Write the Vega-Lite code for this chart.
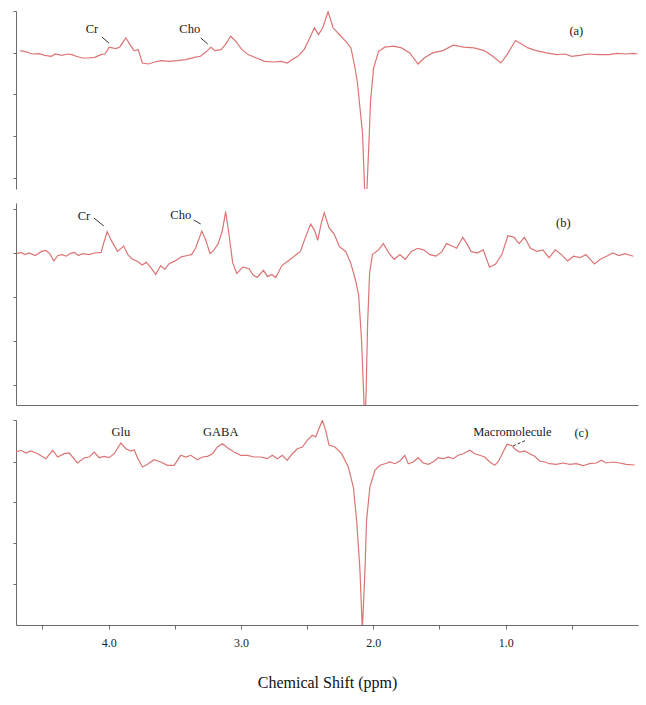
{
  "$schema": "https://vega.github.io/schema/vega-lite/v6.json",
  "padding": {"top": 10, "left": 12, "right": 5, "bottom": 5},
  "background": "white",
  "spacing": 14,
  "config": {
    "view": {"stroke": null},
    "axis": {"domainColor": "#6b6b6b", "tickColor": "#6b6b6b", "grid": false, "labelColor": "#222", "titleColor": "#111"},
    "text": {"font": "Liberation Serif", "fontSize": 12.5, "color": "#1a1a1a"}
  },
  "datasets": {
    "a": [
      {"ppm":4.669,"signal":138.4},{"ppm":4.622,"signal":137.1},{"ppm":4.575,"signal":135.0},{"ppm":4.528,"signal":135.4},{"ppm":4.481,"signal":133.7},{"ppm":4.434,"signal":132.7},{"ppm":4.402,"signal":135.0},{"ppm":4.355,"signal":133.7},{"ppm":4.309,"signal":135.0},{"ppm":4.277,"signal":134.4},{"ppm":4.246,"signal":132.7},{"ppm":4.199,"signal":131.0},{"ppm":4.152,"signal":131.0},{"ppm":4.105,"signal":131.7},{"ppm":4.058,"signal":134.4},{"ppm":4.027,"signal":135.0},{"ppm":3.995,"signal":141.8},{"ppm":3.948,"signal":140.4},{"ppm":3.917,"signal":141.8},{"ppm":3.870,"signal":151.2},{"ppm":3.839,"signal":144.4},{"ppm":3.807,"signal":138.4},{"ppm":3.776,"signal":139.4},{"ppm":3.745,"signal":126.0},{"ppm":3.698,"signal":125.0},{"ppm":3.651,"signal":127.0},{"ppm":3.604,"signal":128.3},{"ppm":3.541,"signal":127.7},{"ppm":3.479,"signal":128.3},{"ppm":3.416,"signal":129.3},{"ppm":3.353,"signal":131.7},{"ppm":3.306,"signal":132.7},{"ppm":3.259,"signal":137.7},{"ppm":3.228,"signal":141.8},{"ppm":3.197,"signal":138.4},{"ppm":3.150,"signal":139.4},{"ppm":3.118,"signal":144.4},{"ppm":3.078,"signal":152.8},{"ppm":3.040,"signal":147.8},{"ppm":2.993,"signal":139.4},{"ppm":2.946,"signal":134.4},{"ppm":2.884,"signal":131.0},{"ppm":2.821,"signal":127.7},{"ppm":2.758,"signal":127.0},{"ppm":2.696,"signal":127.7},{"ppm":2.649,"signal":126.0},{"ppm":2.617,"signal":129.3},{"ppm":2.570,"signal":132.7},{"ppm":2.523,"signal":139.4},{"ppm":2.492,"signal":147.8},{"ppm":2.445,"signal":161.2},{"ppm":2.414,"signal":154.5},{"ppm":2.382,"signal":161.2},{"ppm":2.342,"signal":177.3},{"ppm":2.304,"signal":161.2},{"ppm":2.257,"signal":154.5},{"ppm":2.210,"signal":147.8},{"ppm":2.169,"signal":141.1},{"ppm":2.138,"signal":121.0},{"ppm":2.119,"signal":105},{"ppm":2.081,"signal":55},{"ppm":2.066,"signal":0},{"ppm":2.057,"signal":-30},{"ppm":2.048,"signal":0},{"ppm":2.032,"signal":50},{"ppm":2.021,"signal":88},{"ppm":1.998,"signal":121},{"ppm":1.960,"signal":137.7},{"ppm":1.913,"signal":141.8},{"ppm":1.850,"signal":142.8},{"ppm":1.787,"signal":141.1},{"ppm":1.725,"signal":136.1},{"ppm":1.662,"signal":125.0},{"ppm":1.615,"signal":131.0},{"ppm":1.552,"signal":136.1},{"ppm":1.474,"signal":138.4},{"ppm":1.396,"signal":143.8},{"ppm":1.318,"signal":141.8},{"ppm":1.239,"signal":141.1},{"ppm":1.161,"signal":138.4},{"ppm":1.098,"signal":132.7},{"ppm":1.036,"signal":126.0},{"ppm":0.989,"signal":134.4},{"ppm":0.926,"signal":148.5},{"ppm":0.879,"signal":145.1},{"ppm":0.832,"signal":141.1},{"ppm":0.770,"signal":138.4},{"ppm":0.691,"signal":136.1},{"ppm":0.613,"signal":134.4},{"ppm":0.550,"signal":135.0},{"ppm":0.503,"signal":132.7},{"ppm":0.441,"signal":133.7},{"ppm":0.378,"signal":135.0},{"ppm":0.300,"signal":134.4},{"ppm":0.221,"signal":134.4},{"ppm":0.159,"signal":135.7},{"ppm":0.096,"signal":135.0},{"ppm":0.034,"signal":135.7},{"ppm":0.005,"signal":135.0}
    ],
    "b": [
      {"ppm":4.694,"signal":151.4},{"ppm":4.663,"signal":152.6},{"ppm":4.632,"signal":150.4},{"ppm":4.601,"signal":152.0},{"ppm":4.554,"signal":149.5},{"ppm":4.507,"signal":153.6},{"ppm":4.476,"signal":154.5},{"ppm":4.445,"signal":151.4},{"ppm":4.414,"signal":144.1},{"ppm":4.383,"signal":149.5},{"ppm":4.352,"signal":150.4},{"ppm":4.321,"signal":148.8},{"ppm":4.290,"signal":151.4},{"ppm":4.259,"signal":152.6},{"ppm":4.228,"signal":149.5},{"ppm":4.197,"signal":151.4},{"ppm":4.150,"signal":150.4},{"ppm":4.104,"signal":152.0},{"ppm":4.057,"signal":152.6},{"ppm":4.035,"signal":163.0},{"ppm":4.011,"signal":173.4},{"ppm":3.980,"signal":164.6},{"ppm":3.933,"signal":153.6},{"ppm":3.886,"signal":158.9},{"ppm":3.855,"signal":150.4},{"ppm":3.824,"signal":146.3},{"ppm":3.778,"signal":143.2},{"ppm":3.747,"signal":140.0},{"ppm":3.716,"signal":142.6},{"ppm":3.684,"signal":137.8},{"ppm":3.644,"signal":130.6},{"ppm":3.607,"signal":139.4},{"ppm":3.576,"signal":135.6},{"ppm":3.545,"signal":141.0},{"ppm":3.498,"signal":144.1},{"ppm":3.452,"signal":148.2},{"ppm":3.405,"signal":149.5},{"ppm":3.374,"signal":150.4},{"ppm":3.343,"signal":156.7},{"ppm":3.296,"signal":174.0},{"ppm":3.265,"signal":164.6},{"ppm":3.234,"signal":151.4},{"ppm":3.203,"signal":155.1},{"ppm":3.172,"signal":161.4},{"ppm":3.141,"signal":174.0},{"ppm":3.116,"signal":193.5},{"ppm":3.094,"signal":174.0},{"ppm":3.063,"signal":142.6},{"ppm":3.032,"signal":131.5},{"ppm":2.986,"signal":137.8},{"ppm":2.939,"signal":136.3},{"ppm":2.908,"signal":130.0},{"ppm":2.877,"signal":127.5},{"ppm":2.830,"signal":134.7},{"ppm":2.799,"signal":128.4},{"ppm":2.768,"signal":130.6},{"ppm":2.737,"signal":127.5},{"ppm":2.691,"signal":139.4},{"ppm":2.644,"signal":144.1},{"ppm":2.598,"signal":148.8},{"ppm":2.551,"signal":153.6},{"ppm":2.504,"signal":170.9},{"ppm":2.473,"signal":180.9},{"ppm":2.442,"signal":174.0},{"ppm":2.420,"signal":164.6},{"ppm":2.396,"signal":180.3},{"ppm":2.371,"signal":192.2},{"ppm":2.334,"signal":177.1},{"ppm":2.296,"signal":170.9},{"ppm":2.256,"signal":158.3},{"ppm":2.209,"signal":153.6},{"ppm":2.172,"signal":142.6},{"ppm":2.135,"signal":125},{"ppm":2.111,"signal":110},{"ppm":2.089,"signal":65},{"ppm":2.074,"signal":15},{"ppm":2.064,"signal":-25},{"ppm":2.054,"signal":15},{"ppm":2.043,"signal":82},{"ppm":2.028,"signal":132},{"ppm":2.007,"signal":150.4},{"ppm":1.961,"signal":155.1},{"ppm":1.924,"signal":161.4},{"ppm":1.883,"signal":152.0},{"ppm":1.843,"signal":145.7},{"ppm":1.799,"signal":150.4},{"ppm":1.759,"signal":145.7},{"ppm":1.712,"signal":153.6},{"ppm":1.666,"signal":156.7},{"ppm":1.619,"signal":155.1},{"ppm":1.573,"signal":150.4},{"ppm":1.526,"signal":148.8},{"ppm":1.480,"signal":153.6},{"ppm":1.448,"signal":161.4},{"ppm":1.417,"signal":159.8},{"ppm":1.371,"signal":156.7},{"ppm":1.324,"signal":167.7},{"ppm":1.293,"signal":161.4},{"ppm":1.262,"signal":153.6},{"ppm":1.216,"signal":152.0},{"ppm":1.169,"signal":155.1},{"ppm":1.122,"signal":137.8},{"ppm":1.076,"signal":141.0},{"ppm":1.029,"signal":150.4},{"ppm":0.983,"signal":169.3},{"ppm":0.936,"signal":167.7},{"ppm":0.899,"signal":161.4},{"ppm":0.858,"signal":167.7},{"ppm":0.812,"signal":156.7},{"ppm":0.765,"signal":153.6},{"ppm":0.719,"signal":155.1},{"ppm":0.672,"signal":147.3},{"ppm":0.625,"signal":155.1},{"ppm":0.579,"signal":150.4},{"ppm":0.532,"signal":144.1},{"ppm":0.486,"signal":148.8},{"ppm":0.439,"signal":147.3},{"ppm":0.393,"signal":150.4},{"ppm":0.330,"signal":141.0},{"ppm":0.284,"signal":145.7},{"ppm":0.237,"signal":148.8},{"ppm":0.191,"signal":152.0},{"ppm":0.144,"signal":149.5},{"ppm":0.098,"signal":151.4},{"ppm":0.035,"signal":148.8}
    ],
    "c": [
      {"ppm":4.700,"signal":173.0},{"ppm":4.662,"signal":174.7},{"ppm":4.625,"signal":172.0},{"ppm":4.587,"signal":174.0},{"ppm":4.536,"signal":171.3},{"ppm":4.474,"signal":166.3},{"ppm":4.423,"signal":174.7},{"ppm":4.385,"signal":168.0},{"ppm":4.335,"signal":171.3},{"ppm":4.298,"signal":172.0},{"ppm":4.235,"signal":162.0},{"ppm":4.184,"signal":167.3},{"ppm":4.147,"signal":168.0},{"ppm":4.109,"signal":173.0},{"ppm":4.071,"signal":167.3},{"ppm":4.034,"signal":168.7},{"ppm":3.996,"signal":167.3},{"ppm":3.958,"signal":171.3},{"ppm":3.908,"signal":182.0},{"ppm":3.870,"signal":176.3},{"ppm":3.832,"signal":174.0},{"ppm":3.807,"signal":175.3},{"ppm":3.782,"signal":167.3},{"ppm":3.744,"signal":158.0},{"ppm":3.706,"signal":160.7},{"ppm":3.656,"signal":165.3},{"ppm":3.606,"signal":163.0},{"ppm":3.555,"signal":159.7},{"ppm":3.505,"signal":159.7},{"ppm":3.455,"signal":169.7},{"ppm":3.417,"signal":168.0},{"ppm":3.379,"signal":169.7},{"ppm":3.329,"signal":165.3},{"ppm":3.291,"signal":168.0},{"ppm":3.253,"signal":168.7},{"ppm":3.215,"signal":171.3},{"ppm":3.178,"signal":178.0},{"ppm":3.140,"signal":181.3},{"ppm":3.102,"signal":177.3},{"ppm":3.052,"signal":173.0},{"ppm":3.002,"signal":169.7},{"ppm":2.951,"signal":169.7},{"ppm":2.901,"signal":168.0},{"ppm":2.851,"signal":168.0},{"ppm":2.801,"signal":166.3},{"ppm":2.763,"signal":169.7},{"ppm":2.725,"signal":166.3},{"ppm":2.687,"signal":169.7},{"ppm":2.650,"signal":164.7},{"ppm":2.612,"signal":171.3},{"ppm":2.574,"signal":176.3},{"ppm":2.536,"signal":178.0},{"ppm":2.499,"signal":184.7},{"ppm":2.461,"signal":189.7},{"ppm":2.436,"signal":188.0},{"ppm":2.411,"signal":196.3},{"ppm":2.385,"signal":204.7},{"ppm":2.360,"signal":194.7},{"ppm":2.335,"signal":180.0},{"ppm":2.290,"signal":178.0},{"ppm":2.240,"signal":171.3},{"ppm":2.189,"signal":158.0},{"ppm":2.151,"signal":138.0},{"ppm":2.126,"signal":104.7},{"ppm":2.101,"signal":54.7},{"ppm":2.083,"signal":-5},{"ppm":2.063,"signal":54.7},{"ppm":2.051,"signal":104.7},{"ppm":2.026,"signal":138.0},{"ppm":1.988,"signal":154.7},{"ppm":1.950,"signal":159.7},{"ppm":1.913,"signal":161.3},{"ppm":1.875,"signal":163.0},{"ppm":1.837,"signal":161.3},{"ppm":1.800,"signal":164.0},{"ppm":1.762,"signal":169.7},{"ppm":1.736,"signal":161.3},{"ppm":1.698,"signal":163.0},{"ppm":1.661,"signal":167.3},{"ppm":1.623,"signal":162.0},{"ppm":1.585,"signal":160.7},{"ppm":1.548,"signal":163.0},{"ppm":1.510,"signal":167.3},{"ppm":1.472,"signal":166.3},{"ppm":1.434,"signal":168.0},{"ppm":1.397,"signal":166.3},{"ppm":1.359,"signal":169.7},{"ppm":1.321,"signal":171.3},{"ppm":1.271,"signal":174.7},{"ppm":1.233,"signal":171.3},{"ppm":1.196,"signal":169.7},{"ppm":1.158,"signal":168.0},{"ppm":1.120,"signal":163.0},{"ppm":1.083,"signal":159.7},{"ppm":1.057,"signal":163.0},{"ppm":1.019,"signal":173.0},{"ppm":0.989,"signal":180.7},{"ppm":0.957,"signal":179.7},{"ppm":0.924,"signal":175.3},{"ppm":0.894,"signal":173.0},{"ppm":0.856,"signal":174.0},{"ppm":0.818,"signal":171.3},{"ppm":0.781,"signal":168.7},{"ppm":0.743,"signal":164.0},{"ppm":0.705,"signal":163.0},{"ppm":0.667,"signal":161.3},{"ppm":0.617,"signal":160.7},{"ppm":0.566,"signal":162.0},{"ppm":0.516,"signal":160.7},{"ppm":0.466,"signal":161.3},{"ppm":0.415,"signal":159.3},{"ppm":0.366,"signal":161.3},{"ppm":0.315,"signal":162.0},{"ppm":0.277,"signal":164.7},{"ppm":0.240,"signal":162.0},{"ppm":0.189,"signal":163.0},{"ppm":0.139,"signal":162.0},{"ppm":0.089,"signal":160.7},{"ppm":0.026,"signal":160.0}
    ],
    "labels": [
      {"panel":"a","ppm":4.126,"signal":160,"text":"Cr"},
      {"panel":"a","ppm":3.387,"signal":160,"text":"Cho"},
      {"panel":"a","ppm":0.466,"signal":158,"text":"(a)"},
      {"panel":"b","ppm":4.187,"signal":189,"text":"Cr"},
      {"panel":"b","ppm":3.455,"signal":190,"text":"Cho"},
      {"panel":"b","ppm":0.564,"signal":182,"text":"(b)"},
      {"panel":"c","ppm":3.908,"signal":193,"text":"Glu"},
      {"panel":"c","ppm":3.153,"signal":193,"text":"GABA"},
      {"panel":"c","ppm":0.949,"signal":193,"text":"Macromolecule"},
      {"panel":"c","ppm":0.428,"signal":192,"text":"(c)"}
    ],
    "leaders": [
      {"panel":"a","ppm":4.051,"signal":152,"ppm2":3.998,"signal2":146},
      {"panel":"a","ppm":3.304,"signal":151,"ppm2":3.251,"signal2":145},
      {"panel":"b","ppm":4.111,"signal":187,"ppm2":4.036,"signal2":179},
      {"panel":"b","ppm":3.357,"signal":185,"ppm2":3.304,"signal2":181},
      {"panel":"c","ppm":0.944,"signal":179,"ppm2":0.843,"signal2":185}
    ]
  },
  "vconcat": [
    {
      "width": 622, "height": 178,
      "layer": [
        {
          "data": {"name": "a"},
          "mark": {"type": "line", "color": "#dc7474", "strokeWidth": 1.2, "clip": true},
          "encoding": {
            "x": {"field": "ppm", "type": "quantitative", "scale": {"domain": [0, 4.7], "reverse": true, "nice": false, "zero": false}, "axis": null},
            "y": {"field": "signal", "type": "quantitative", "scale": {"domain": [0, 178], "nice": false}, "axis": {"labels": false, "title": null, "values": [178, 136, 95, 53, 11], "tickSize": 3}}
          }
        },
        {
          "data": {"name": "labels"},
          "transform": [{"filter": "datum.panel === 'a'"}],
          "mark": {"type": "text", "align": "center", "baseline": "middle"},
          "encoding": {
            "x": {"field": "ppm", "type": "quantitative"},
            "y": {"field": "signal", "type": "quantitative"},
            "text": {"field": "text"}
          }
        },
        {
          "data": {"name": "leaders"},
          "transform": [{"filter": "datum.panel === 'a'"}],
          "mark": {"type": "rule", "color": "#333", "strokeWidth": 1},
          "encoding": {
            "x": {"field": "ppm", "type": "quantitative"},
            "x2": {"field": "ppm2"},
            "y": {"field": "signal", "type": "quantitative"},
            "y2": {"field": "signal2"}
          }
        }
      ]
    },
    {
      "width": 622, "height": 202,
      "layer": [
        {
          "data": {"name": "b"},
          "mark": {"type": "line", "color": "#dc7474", "strokeWidth": 1.2, "clip": true},
          "encoding": {
            "x": {"field": "ppm", "type": "quantitative", "scale": {"domain": [0, 4.7], "reverse": true, "nice": false, "zero": false}, "axis": {"labels": false, "ticks": false, "title": null}},
            "y": {"field": "signal", "type": "quantitative", "scale": {"domain": [0, 202], "nice": false}, "axis": {"labels": false, "title": null, "values": [196, 174, 152, 130, 108, 86, 64, 42, 20], "tickSize": 3}}
          }
        },
        {
          "data": {"name": "labels"},
          "transform": [{"filter": "datum.panel === 'b'"}],
          "mark": {"type": "text", "align": "center", "baseline": "middle"},
          "encoding": {
            "x": {"field": "ppm", "type": "quantitative"},
            "y": {"field": "signal", "type": "quantitative"},
            "text": {"field": "text"}
          }
        },
        {
          "data": {"name": "leaders"},
          "transform": [{"filter": "datum.panel === 'b'"}],
          "mark": {"type": "rule", "color": "#333", "strokeWidth": 1},
          "encoding": {
            "x": {"field": "ppm", "type": "quantitative"},
            "x2": {"field": "ppm2"},
            "y": {"field": "signal", "type": "quantitative"},
            "y2": {"field": "signal2"}
          }
        }
      ]
    },
    {
      "width": 622, "height": 205,
      "layer": [
        {
          "data": {"name": "c"},
          "mark": {"type": "line", "color": "#dc7474", "strokeWidth": 1.2, "clip": true},
          "encoding": {
            "x": {"field": "ppm", "type": "quantitative", "scale": {"domain": [0, 4.7], "reverse": true, "nice": false, "zero": false},
              "axis": {"values": [4.5, 4, 3.5, 3, 2.5, 2, 1.5, 1, 0.5], "labelExpr": "datum.value % 1 === 0 ? format(datum.value, '.1f') : ''", "tickSize": 4, "labelFont": "Liberation Serif", "labelFontSize": 12, "labelPadding": 8, "title": "Chemical Shift (ppm)", "titleFont": "Liberation Serif", "titleFontSize": 16, "titleFontWeight": "normal", "titlePadding": 26}},
            "y": {"field": "signal", "type": "quantitative", "scale": {"domain": [0, 205], "nice": false}, "axis": {"labels": false, "title": null, "values": [205, 163, 123, 82, 41], "tickSize": 3}}
          }
        },
        {
          "data": {"name": "labels"},
          "transform": [{"filter": "datum.panel === 'c'"}],
          "mark": {"type": "text", "align": "center", "baseline": "middle"},
          "encoding": {
            "x": {"field": "ppm", "type": "quantitative"},
            "y": {"field": "signal", "type": "quantitative"},
            "text": {"field": "text"}
          }
        },
        {
          "data": {"name": "leaders"},
          "transform": [{"filter": "datum.panel === 'c'"}],
          "mark": {"type": "rule", "color": "#333", "strokeWidth": 1, "strokeDash": [3, 2]},
          "encoding": {
            "x": {"field": "ppm", "type": "quantitative"},
            "x2": {"field": "ppm2"},
            "y": {"field": "signal", "type": "quantitative"},
            "y2": {"field": "signal2"}
          }
        }
      ]
    }
  ]
}
